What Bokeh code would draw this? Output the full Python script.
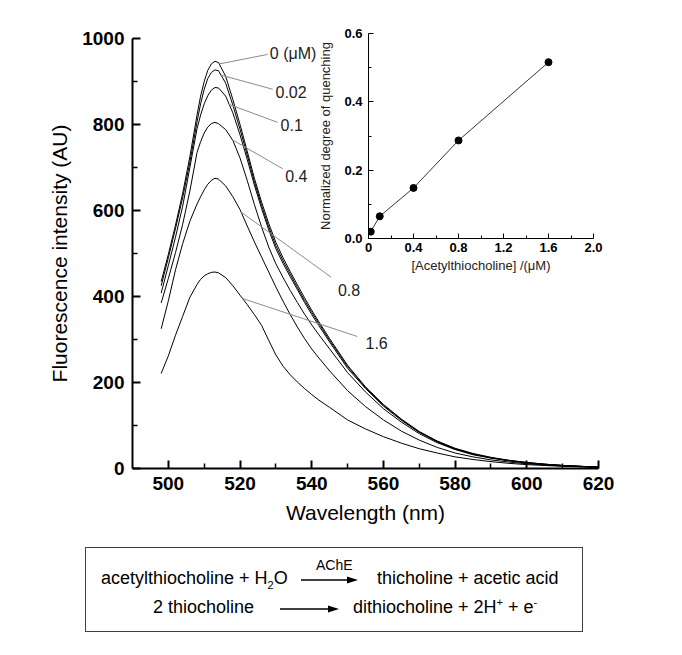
import numpy as np
from bokeh.plotting import figure
from bokeh.models import Range1d, FixedTicker, Div
from bokeh.layouts import column
from bokeh.embed import file_html
from bokeh.resources import INLINE
from bokeh.core.properties import value

# ---------------- data ----------------
wavelength = [498, 500, 502, 504, 506, 508, 509, 510, 511, 512, 513, 514, 516, 518, 520,
              522, 524, 526, 528, 530, 532, 534, 536, 538, 540, 542, 545, 550, 555, 560,
              565, 570, 575, 580, 585, 590, 595, 600, 605, 610, 615, 620]

conc_labels = ["0 (\u03bcM)", "0.02", "0.1", "0.4", "0.8", "1.6"]

f_0 = [435, 498, 566, 640, 725, 822, 866, 900, 926, 941, 947, 944, 912, 858, 800,
       738, 675, 620, 570, 526, 490, 458, 427, 397, 368, 341, 302, 240, 190, 149,
       115, 86, 64, 47, 35, 26, 19, 14, 10, 7, 5, 3]
f_002 = [425, 490, 558, 630, 712, 806, 848, 882, 907, 921, 927, 925, 896, 845, 789,
         729, 667, 612, 562, 518, 483, 452, 421, 391, 363, 337, 298, 237, 188, 147,
         114, 85, 63, 46, 34, 25, 19, 14, 10, 7, 5, 3]
f_01 = [408, 472, 538, 610, 700, 790, 822, 848, 867, 880, 886, 885, 866, 827, 776,
        719, 659, 605, 555, 511, 477, 446, 416, 386, 358, 332, 294, 233, 186, 145,
        112, 84, 62, 45, 33, 25, 18, 13, 10, 7, 5, 3]
f_04 = [385, 442, 502, 568, 645, 735, 760, 780, 794, 802, 805, 802, 788, 763, 722,
        670, 614, 562, 515, 476, 444, 414, 386, 359, 334, 311, 278, 223, 178, 139,
        108, 81, 60, 44, 32, 24, 18, 13, 9, 7, 5, 3]
f_08 = [325, 390, 462, 523, 575, 615, 632, 648, 661, 670, 675, 673, 657, 632, 602,
        564, 527, 492, 457, 422, 389, 358, 329, 302, 278, 257, 227, 181, 144, 113,
        87, 66, 49, 36, 27, 20, 15, 11, 8, 6, 4, 3]
f_16 = [221, 262, 310, 354, 398, 428, 440, 448, 453, 456, 457, 455, 444, 425, 403,
        381, 358, 333, 298, 264, 238, 218, 201, 186, 172, 159, 142, 113, 92, 74,
        59, 46, 36, 27, 21, 16, 12, 9, 7, 5, 4, 3]
spectra = [f_0, f_002, f_01, f_04, f_08, f_16]

# inset: normalized degree of quenching vs acetylthiocholine concentration
ath_conc = [0.02, 0.1, 0.4, 0.8, 1.6]
quench = [0.02, 0.065, 0.148, 0.287, 0.516]

# main axis ticks
x_major = [500, 520, 540, 560, 580, 600, 620]
x_minor = [510, 530, 550, 570, 590, 610]
y_major = [0, 200, 400, 600, 800, 1000]
y_minor = [100, 300, 500, 700, 900]
# inset ticks
ix_major = [0, 0.4, 0.8, 1.2, 1.6, 2.0]
ix_minor = [0.2, 0.6, 1.0, 1.4, 1.8]
iy_major = [0, 0.2, 0.4, 0.6]
iy_minor = [0.1, 0.3, 0.5]

# annotation layout (label anchors / leader geometry, in data units)
leader_from_wl = [514.2, 514.7, 517.0, 517.9, 520.3, 520.7]
leader_to_wl = [527.7, 529.1, 530.5, 531.9, 545.4, 552.7]
leader_to_v = [963, 882, 805, 697, 445, 307]
label_wl = [528.3, 529.9, 531.3, 532.6, 547.3, 555.0]
label_v = [964, 876, 799, 681, 416, 292]

FONT = "Liberation Sans"

# ---------------- main figure ----------------
BORDER_L = 132
BORDER_R = 50
TOP = 38
FRAME_H = 430
MAIN_H = 538
p = figure(frame_width=466, frame_height=FRAME_H, min_border_left=BORDER_L,
           min_border_right=BORDER_R, min_border_top=TOP,
           min_border_bottom=MAIN_H - TOP - FRAME_H,
           x_range=Range1d(490, 620), y_range=Range1d(0, 1000),
           output_backend="svg", toolbar_location=None)
p.outline_line_color = None
p.grid.visible = False
p.background_fill_color = None
p.border_fill_color = None

for ys in spectra:
    p.line(wavelength, ys, line_color="black", line_width=1)

wl_arr = np.array(wavelength, dtype=float)
y0 = [float(np.interp(w, wl_arr, np.array(s, dtype=float))) for w, s in zip(leader_from_wl, spectra)]
p.segment(x0=leader_from_wl, y0=y0, x1=leader_to_wl, y1=leader_to_v,
          line_color="#8a8a8a", line_width=1)
p.text(x=label_wl, y=label_v, text=conc_labels, text_font=value(FONT),
       text_font_size="16px", text_color="#222222", text_align="left",
       text_baseline="middle")

p.xaxis.ticker = FixedTicker(ticks=x_major, minor_ticks=x_minor)
p.yaxis.ticker = FixedTicker(ticks=y_major, minor_ticks=y_minor)
p.xaxis.axis_label = "Wavelength (nm)"
p.yaxis.axis_label = "Fluorescence intensity (AU)"
for ax in [p.xaxis[0], p.yaxis[0]]:
    ax.axis_line_width = 2
    ax.major_tick_line_width = 2
    ax.minor_tick_line_width = 1.5
    ax.major_tick_in = 8
    ax.major_tick_out = 0
    ax.minor_tick_in = 5
    ax.minor_tick_out = 0
    ax.major_label_text_font = FONT
    ax.major_label_text_font_style = "bold"
    ax.major_label_text_font_size = "19px"
    ax.major_label_text_color = "black"
    ax.axis_label_text_font = FONT
    ax.axis_label_text_font_style = "normal"
    ax.axis_label_text_font_size = "21px"
    ax.axis_label_text_color = "black"
    ax.major_label_standoff = 8
    ax.axis_label_standoff = 8

# ---------------- inset figure ----------------
INSET_TOP = 20
INSET_FRAME_X = 368
IN_TOP, IN_BOTTOM = 13, 45
INSET_H = IN_TOP + 205 + IN_BOTTOM
q = figure(frame_width=225, frame_height=205, min_border_left=BORDER_L,
           min_border_right=BORDER_R, min_border_top=IN_TOP, min_border_bottom=IN_BOTTOM,
           x_range=Range1d(0, 2), y_range=Range1d(0, 0.6),
           output_backend="svg", toolbar_location=None)
q.outline_line_color = None
q.grid.visible = False
q.background_fill_color = None
q.border_fill_color = None
q.line(ath_conc, quench, line_color="black", line_width=0.8)
q.scatter(ath_conc, quench, size=7, fill_color="black", line_color="black")
q.xaxis.ticker = FixedTicker(ticks=ix_major, minor_ticks=ix_minor)
q.yaxis.ticker = FixedTicker(ticks=iy_major, minor_ticks=iy_minor)
q.xaxis.major_label_overrides = {0: "0", 0.4: "0.4", 0.8: "0.8", 1.2: "1.2", 1.6: "1.6", 2: "2.0"}
q.yaxis.major_label_overrides = {0: "0.0", 0.2: "0.2", 0.4: "0.4", 0.6: "0.6"}
q.xaxis.axis_label = "[Acetylthiocholine] /(\u03bcM)"
q.yaxis.axis_label = "Normalized degree of quenching"
for ax in [q.xaxis[0], q.yaxis[0]]:
    ax.axis_line_width = 1
    ax.major_tick_line_width = 1
    ax.minor_tick_line_width = 1
    ax.major_tick_in = 5
    ax.major_tick_out = 0
    ax.minor_tick_in = 3
    ax.minor_tick_out = 0
    ax.major_label_text_font = FONT
    ax.major_label_text_font_style = "bold"
    ax.major_label_text_font_size = "13px"
    ax.major_label_text_color = "black"
    ax.axis_label_text_font = FONT
    ax.axis_label_text_font_style = "normal"
    ax.axis_label_text_font_size = "13px"
    ax.axis_label_text_color = "#222222"
q.xaxis.major_label_standoff = 4
q.yaxis.major_label_standoff = 6
q.xaxis.axis_label_standoff = 3
q.yaxis.axis_label_standoff = 8
q.margin = (-(MAIN_H - INSET_TOP), 0, MAIN_H - INSET_TOP - INSET_H, INSET_FRAME_X - BORDER_L)

# ---------------- reaction scheme box (HTML text) ----------------
def arrow_svg(left, top, length):
    return (f'<svg style="position:absolute;left:{left}px;top:{top}px" width="{length}" height="12">'
            f'<line x1="0" y1="6" x2="{length - 8}" y2="6" stroke="black" stroke-width="1.5"/>'
            f'<polygon points="{length},6 {length - 11},2.5 {length - 11},9.5" fill="black"/></svg>')

def span(left, top, html, size=18):
    return (f'<span style="position:absolute;left:{left}px;top:{top}px;white-space:nowrap;'
            f'font-size:{size}px;line-height:20px">{html}</span>')

box_html = (
    '<div style="position:relative;width:498px;height:85px;border:1px solid #404040;'
    'box-sizing:border-box;font-family:\'Liberation Sans\',Arial,sans-serif;color:black">'
    + span(15, 20, 'acetylthiocholine + H<sub style="font-size:11px;line-height:0">2</sub>O')
    + span(230, 7, 'AChE', 14)
    + arrow_svg(215, 26, 57)
    + span(291, 20, 'thicholine + acetic acid')
    + span(67, 49, '2 thiocholine')
    + arrow_svg(194, 55, 59)
    + span(267, 49, 'dithiocholine + 2H<sup style="font-size:11px;line-height:0">+</sup> + '
               'e<sup style="font-size:11px;line-height:0">-</sup>')
    + '</div>'
)
eq = Div(text=box_html, width=500, height=87, margin=(547 - MAIN_H, 0, 0, 85))

layout = column(p, q, eq, spacing=0)
open("out.html", "w").write(file_html(layout, INLINE))
